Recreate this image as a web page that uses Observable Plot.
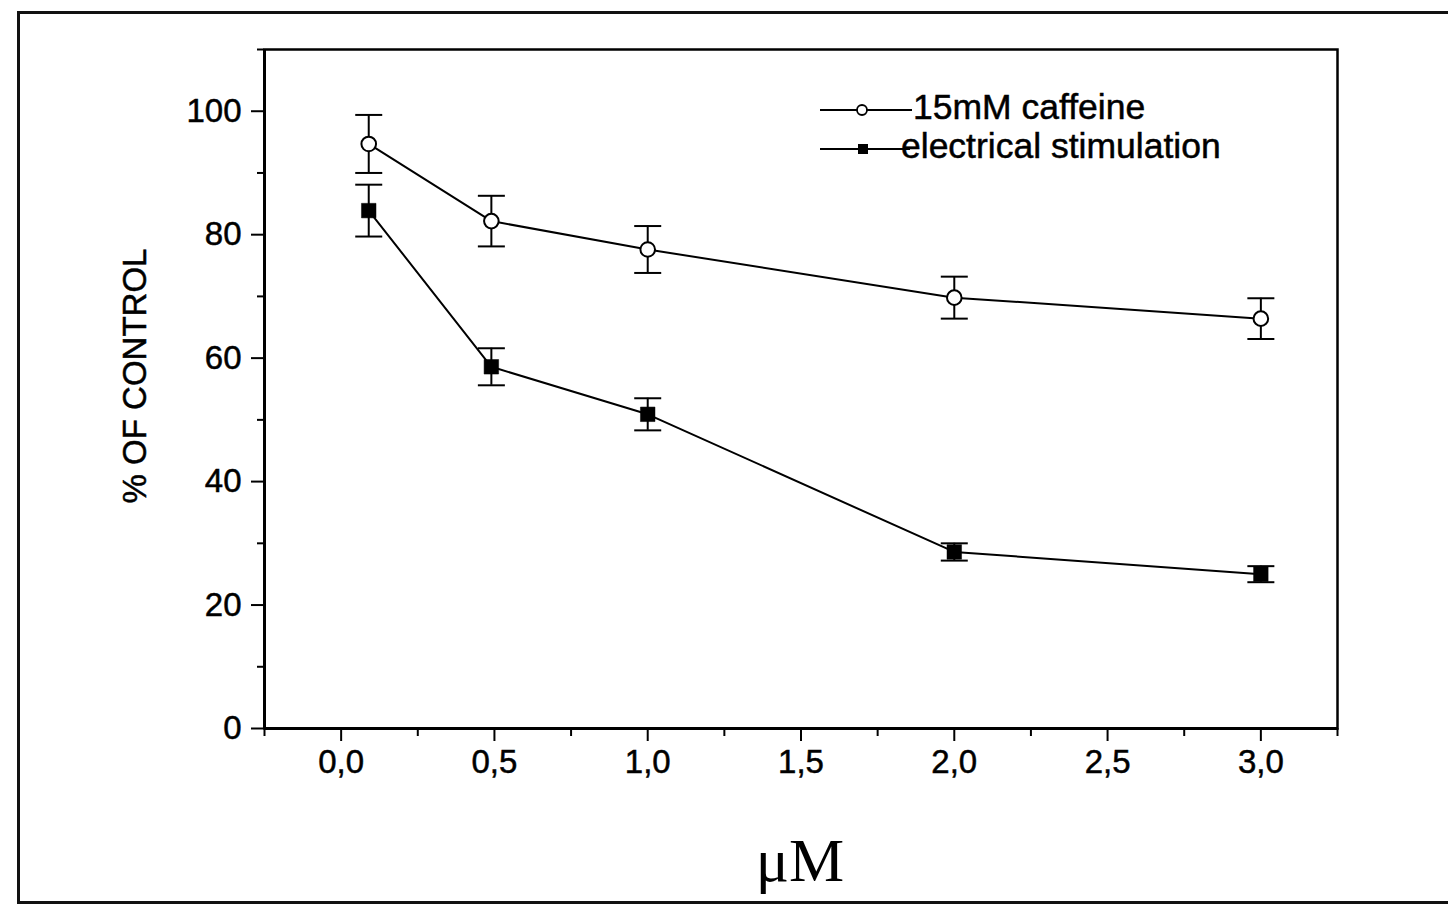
<!DOCTYPE html>
<html>
<head>
<meta charset="utf-8">
<script src="https://cdn.jsdelivr.net/npm/d3@7"></script>
<script src="https://cdn.jsdelivr.net/npm/@observablehq/plot@0.6"></script>
<style>
  html, body { margin: 0; padding: 0; background: #fff; }
  #wrap { position: relative; width: 1448px; height: 910px; overflow: hidden; font-family: "Liberation Sans", Arial, sans-serif; }
  #border { position: absolute; left: 17px; top: 11px; width: 1440px; height: 893px; border-left: 3px solid #111; border-top: 3px solid #111; border-bottom: 3px solid #111; border-right: 1px solid #ddd; box-sizing: border-box; }
  #chart { position: absolute; left: 0; top: 0; }
  #chart svg text { stroke: #000; stroke-width: 0.5px; }
  #xlabel { position: absolute; left: 700px; width: 200px; top: 824px; text-align: center; font-family: "Liberation Serif", "Times New Roman", serif; font-size: 62px; line-height: 72px; color: #000; }
  #ylabel { position: absolute; left: 135px; top: 376px; transform: translate(-50%, -50%) rotate(-90deg); white-space: nowrap; font-size: 33px; line-height: 36px; color: #000; -webkit-text-stroke: 0.5px #000; }
  #legend { position: absolute; left: 810px; top: 83px; }
  #legend text { stroke: #000; stroke-width: 0.5px; }
</style>
</head>
<body>
<div id="wrap">
  <div id="border"></div>
  <div id="chart"></div>
  <div id="ylabel"></div>
  <div id="xlabel">μM</div>
  <div id="legend"></div>
</div>
<script>
// ---- data ----
const doses = [0.09, 0.49, 1.0, 2.0, 3.0];
const caffeineMean = [94.7, 82.2, 77.6, 69.8, 66.4];
const caffeineErr  = [4.7, 4.1, 3.8, 3.4, 3.3];
const electricalMean = [83.9, 58.6, 50.9, 28.6, 25.0];
const electricalErr  = [4.2, 3.0, 2.6, 1.4, 1.3];

const seriesNames = ["15mM caffeine", "electrical stimulation"];

const xMajorTicks = [0, 0.5, 1.0, 1.5, 2.0, 2.5, 3.0];
const xMinorTicks = [-0.25, 0.25, 0.75, 1.25, 1.75, 2.25, 2.75, 3.25];
const yMajorTicks = [0, 20, 40, 60, 80, 100];
const yMinorTicks = [10, 30, 50, 70, 90, 110];

const yLabel = "% OF CONTROL";
document.getElementById("ylabel").textContent = yLabel;

// ---- tables ----
const caffeine = doses.map((x, i) => ({x, y: caffeineMean[i], e: caffeineErr[i]}));
const electrical = doses.map((x, i) => ({x, y: electricalMean[i], e: electricalErr[i]}));
const both = caffeine.concat(electrical);

const capSymbol = {
  draw(context) {
    context.moveTo(-13.5, 0);
    context.lineTo(13.5, 0);
  }
};

const fmt = d => d3.format(".1f")(d).replace(".", ",");
const FONT = "Liberation Sans, Arial, sans-serif";

const plot = Plot.plot({
  width: 1448,
  height: 910,
  marginLeft: 264,
  marginRight: 111,
  marginTop: 49,
  marginBottom: 182,
  style: {fontFamily: FONT, background: "transparent", color: "#000"},
  x: {domain: [-0.25, 3.25]},
  y: {domain: [0, 110]},
  marks: [
    Plot.axisX({ticks: xMinorTicks, tickSize: 8, tickFormat: () => "", strokeWidth: 2, label: null}),
    Plot.axisX({ticks: xMajorTicks, tickSize: 13, tickPadding: 8, tickFormat: fmt, fontSize: 33, strokeWidth: 2, label: null}),
    Plot.axisY({ticks: yMinorTicks, tickSize: 7, tickFormat: () => "", strokeWidth: 2, label: null}),
    Plot.axisY({ticks: yMajorTicks, tickSize: 13, tickPadding: 10, fontSize: 33, strokeWidth: 2, label: null}),
    Plot.frame({stroke: "#000", strokeWidth: 2.5}),
    Plot.ruleY([0], {stroke: "#000", strokeWidth: 3}),
    Plot.ruleX([-0.25], {stroke: "#000", strokeWidth: 3}),
    Plot.line(caffeine, {x: "x", y: "y", stroke: "#000", strokeWidth: 2}),
    Plot.line(electrical, {x: "x", y: "y", stroke: "#000", strokeWidth: 2}),
    Plot.ruleX(both, {x: "x", y1: d => d.y - d.e, y2: d => d.y + d.e, stroke: "#000", strokeWidth: 2}),
    Plot.dot(both, {x: "x", y: d => d.y + d.e, symbol: capSymbol, stroke: "#000", strokeWidth: 2, fill: "none", r: 5}),
    Plot.dot(both, {x: "x", y: d => d.y - d.e, symbol: capSymbol, stroke: "#000", strokeWidth: 2, fill: "none", r: 5}),
    Plot.dot(caffeine, {x: "x", y: "y", r: 7.3, fill: "#fff", stroke: "#000", strokeWidth: 2}),
    Plot.dot(electrical, {x: "x", y: "y", symbol: "square", r: 8.2, fill: "#000", stroke: "#000", strokeWidth: 0.5})
  ]
});
document.getElementById("chart").appendChild(plot);

// ---- legend (outside the plot) ----
const lg = d3.select("#legend").append("svg").attr("width", 470).attr("height", 95)
  .style("font-family", FONT);
const rows = [
  {name: seriesNames[0], y: 27, tx: 103, sym: "circle", end: 102},
  {name: seriesNames[1], y: 66, tx: 91, sym: "square", end: 100}
];
rows.forEach(r => {
  lg.append("line").attr("x1", 10).attr("x2", r.end).attr("y1", r.y).attr("y2", r.y)
    .attr("stroke", "#000").attr("stroke-width", 2);
  if (r.sym === "circle") {
    lg.append("circle").attr("cx", 52).attr("cy", r.y).attr("r", 5).attr("fill", "#fff").attr("stroke", "#000").attr("stroke-width", 1.8);
  } else {
    lg.append("rect").attr("x", 48).attr("y", r.y - 5).attr("width", 10).attr("height", 10).attr("fill", "#000");
  }
  lg.append("text").attr("x", r.tx).attr("y", r.y + 9).attr("font-size", 35.5).attr("fill", "#000").text(r.name);
});
</script>
</body>
</html>
